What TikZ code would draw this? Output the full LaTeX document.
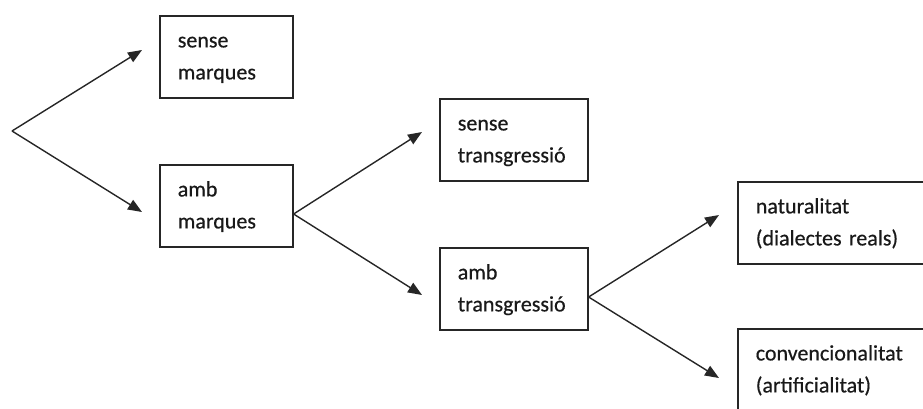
\documentclass[tikz,border=0pt]{standalone}
\usepackage{fontspec}
\setmainfont{Carlito}[FakeBold=0.6]
\newfontfamily\boxfont{Carlito}[FakeBold=0.5]
\usetikzlibrary{arrows.meta}

\newcommand{\twolines}[2]{\strut#1\\\strut#2}

\begin{document}
\begin{tikzpicture}[x=1pt,y=-1pt,
  boxstyle/.style={draw=black!85,line width=1.6pt,rectangle,anchor=west,
    minimum height=82pt,inner xsep=18pt,inner ysep=0pt,align=left,
    text=black!90,font=\boxfont\fontsize{22}{32}\selectfont},
  arrowstyle/.style={draw=black!85,line width=1.4pt,
    -{Triangle[length=14pt,width=11pt]}}]
  \useasboundingbox (0,0) rectangle (923,408);
  \clip (0,0) rectangle (923,408);

  % boxes, left to right
  \node [boxstyle,text width=97pt]  (sm)   at (159,57)  {\twolines{sense}{marques}};
  \node [boxstyle,text width=97pt]  (am)   at (159,206) {\twolines{amb}{marques}};
  \node [boxstyle,text width=112pt] (st)   at (439,140) {\twolines{sense}{transgressió}};
  \node [boxstyle,text width=112pt] (at)   at (439,289) {\twolines{amb}{transgressió}};
  \node [boxstyle,text width=190pt] (nat)  at (737,223) {\twolines{naturalitat}{(dialectes reals)}};
  \node [boxstyle,text width=190pt] (conv) at (737,370) {\twolines{convencionalitat}{(artificialitat)}};

  % where the arrows start and stop
  \coordinate (root)    at (12,131);
  \coordinate (am-out)  at ([yshift=-8pt]am.east);
  \coordinate (at-out)  at ([yshift=-8pt]at.east);
  \coordinate (sm-in)   at ([xshift=-17pt,yshift=7pt]sm.west);
  \coordinate (am-in)   at ([xshift=-17pt,yshift=-6pt]am.west);
  \coordinate (st-in)   at ([xshift=-17pt,yshift=8pt]st.west);
  \coordinate (at-in)   at ([xshift=-17pt,yshift=-6pt]at.west);
  \coordinate (nat-in)  at ([xshift=-18pt,yshift=8pt]nat.west);
  \coordinate (conv-in) at ([xshift=-18pt,yshift=-8pt]conv.west);

  \foreach \from/\to in {root/sm-in,root/am-in,am-out/st-in,am-out/at-in,at-out/nat-in,at-out/conv-in}
    \draw [arrowstyle] (\from) -- (\to);
\end{tikzpicture}
\end{document}
